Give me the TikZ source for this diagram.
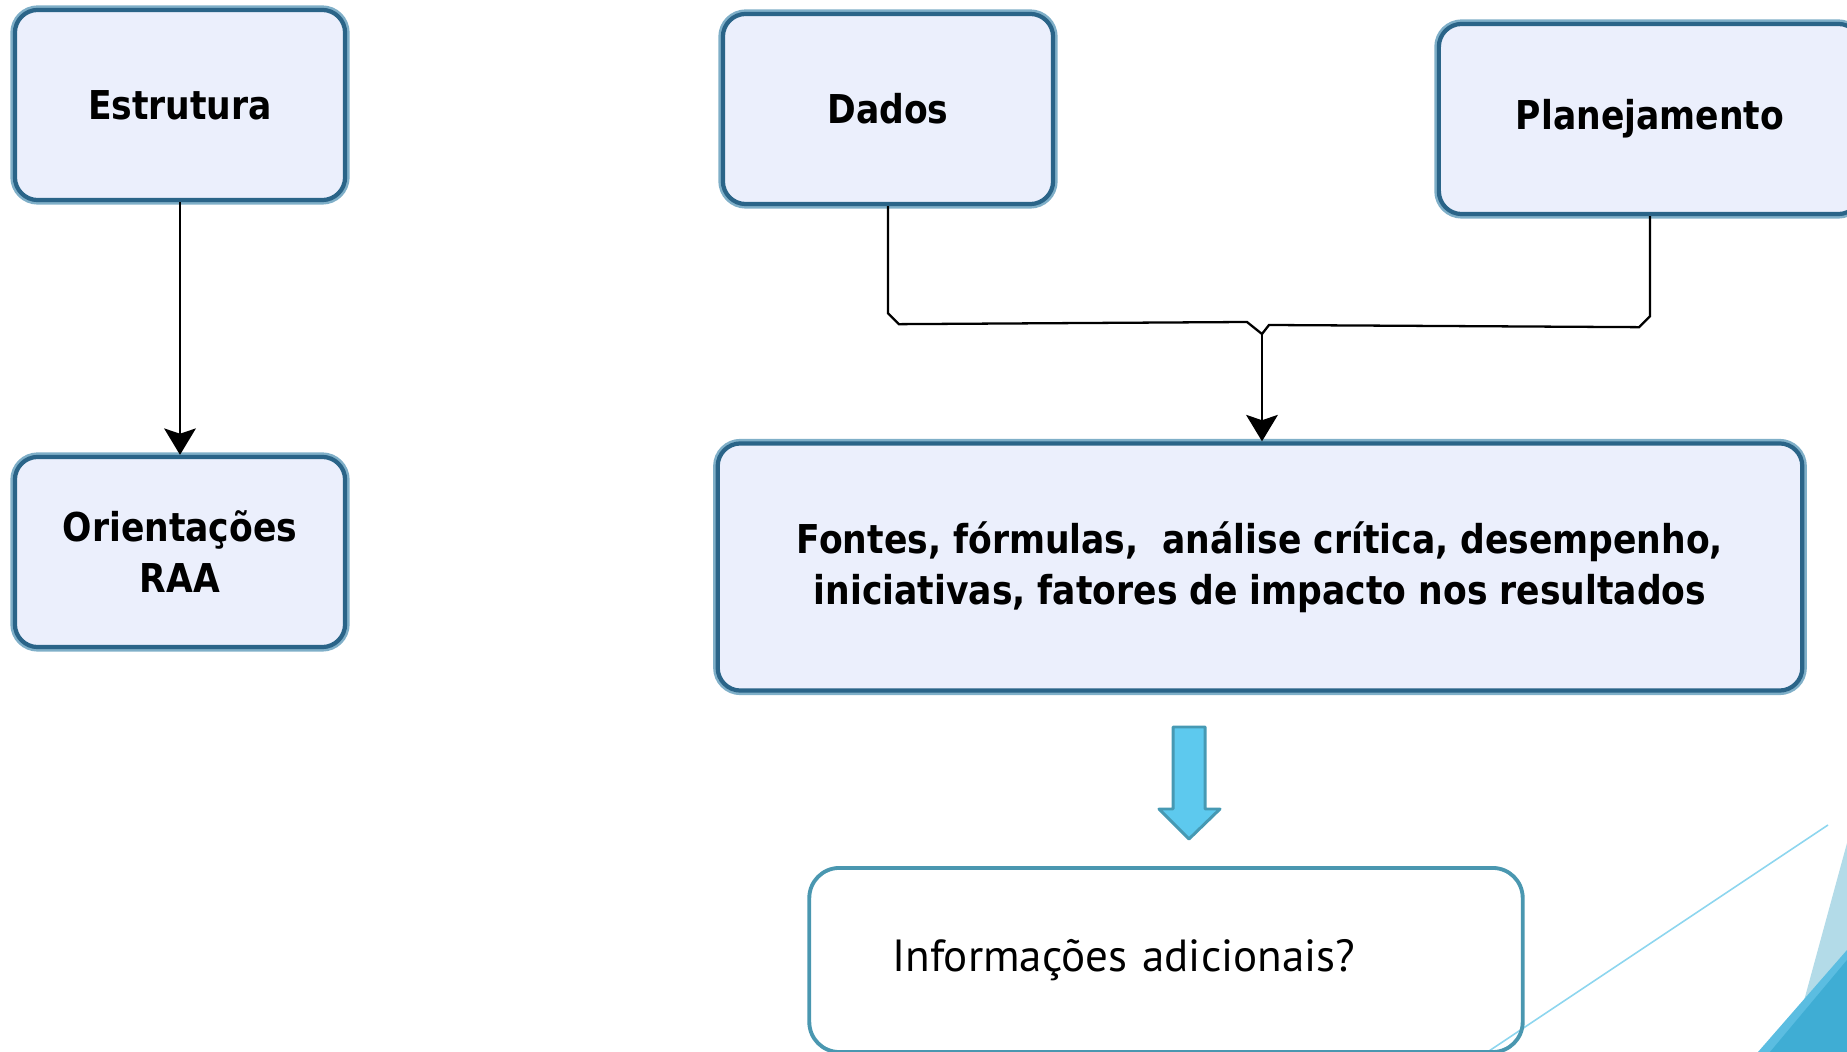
\documentclass[tikz,border=0pt]{standalone}
\usepackage{fontspec}
\usepackage{tikz}
\usetikzlibrary{positioning}
\usetikzlibrary{arrows.meta,shapes}
\usetikzlibrary{calc}
\newfontfamily\boxfont[FakeStretch=0.87]{DejaVu Sans}
\newfontfamily\slidefont{PT Sans}
\definecolor{boxfill}{HTML}{EBEFFC}
\definecolor{boxdark}{HTML}{2A6488}
\definecolor{boxlight}{HTML}{7FAFC8}
\definecolor{infoline}{HTML}{4A97B0}
\definecolor{setafill}{HTML}{5DC9EE}
\definecolor{setaline}{HTML}{4699B3}
\definecolor{decoline}{HTML}{8ED6EF}
\definecolor{decolight}{HTML}{B3DBE8}
\definecolor{decomid}{HTML}{5BBDE1}
\definecolor{decodark}{HTML}{3FADD4}
\tikzstyle{block}=[rectangle,rounded corners=6.5pt,fill=boxfill,draw=boxdark,line width=1.2pt,preaction={draw=boxlight,line width=2.6pt},align=center,inner sep=0pt,font=\boxfont\bfseries\fontsize{11.3}{14.5}\selectfont]
\tikzstyle{smallblock}=[block,minimum width=3.3cm,minimum height=1.9cm]
\tikzstyle{wire}=[draw,line width=0.65pt]
\tikzstyle{edge}=[wire,-{Stealth[length=7.5pt,width=9pt,inset=1.5pt]}]
\tikzstyle{infobox}=[rectangle,rounded corners=0.3cm,draw=infoline,line width=1.1pt,align=left,inner sep=0pt,text width=5.47cm,minimum width=7.13cm,minimum height=1.84cm,font=\slidefont\fontsize{12.8}{15}\selectfont]
\tikzstyle{bigarrow}=[fill=setafill,draw=setaline,line width=0.85pt,line join=round]

\begin{document}
\begin{tikzpicture}[x=0.01cm,y=-0.01cm]
    \useasboundingbox (0,0) rectangle (1847,1052);
    \clip (0,0) rectangle (1847,1052);

    % decoration, lower right corner
    \fill[decolight] (1847,843) -- (1790,1052) -- (1847,1052) -- cycle;
    \fill[decomid] (1847,950) -- (1758,1052) -- (1847,1052) -- cycle;
    \fill[decodark] (1847,960) -- (1770,1052) -- (1847,1052) -- cycle;
    \draw[decoline,line width=0.45pt] (1828,825) -- (1480,1057);

    \foreach \pos/\name/\label in {{(180,105)/estrutura/Estrutura}, {(180,552)/orientacoes/{Orientações\\RAA}}, {(888,109)/dados/Dados}}
        \node[smallblock] (\name) at \pos {\label};
    \node[block,minimum width=4.22cm,minimum height=1.9cm] (planej) at (1650,119) {Planejamento};
    \node[block,minimum width=10.84cm,minimum height=2.47cm] (fontes) at (1260,567)
        {Fontes, fórmulas,~ análise crítica, desempenho,\\iniciativas, fatores de impacto nos resultados};

    \path[edge] (estrutura) -- (orientacoes);

    % Dados and Planejamento meet above the big box
    \coordinate (junc) at (1262,334);
    \draw[wire] (dados.south) -- ++(0,107) -- ++(11,11) -- ($(junc)+(-15,-12)$) -- (junc);
    \draw[wire] (planej.south) -- ++(0,100) -- ++(-11,11) -- ($(junc)+(7,-9)$) -- (junc);
    \path[edge] (junc) -- (junc |- fontes.north);

    % block arrow
    \coordinate (seta) at (1189,727);
    \draw[bigarrow] (seta) ++(-16,0) -- ++(32,0) -- ++(0,82) -- ++(15,0) -- ++(-31,30) -- ++(-30,-30) -- ++(14,0) -- cycle;

    \node[infobox] (info) at (1166,960) {Informações adicionais?};
\end{tikzpicture}
\end{document}
